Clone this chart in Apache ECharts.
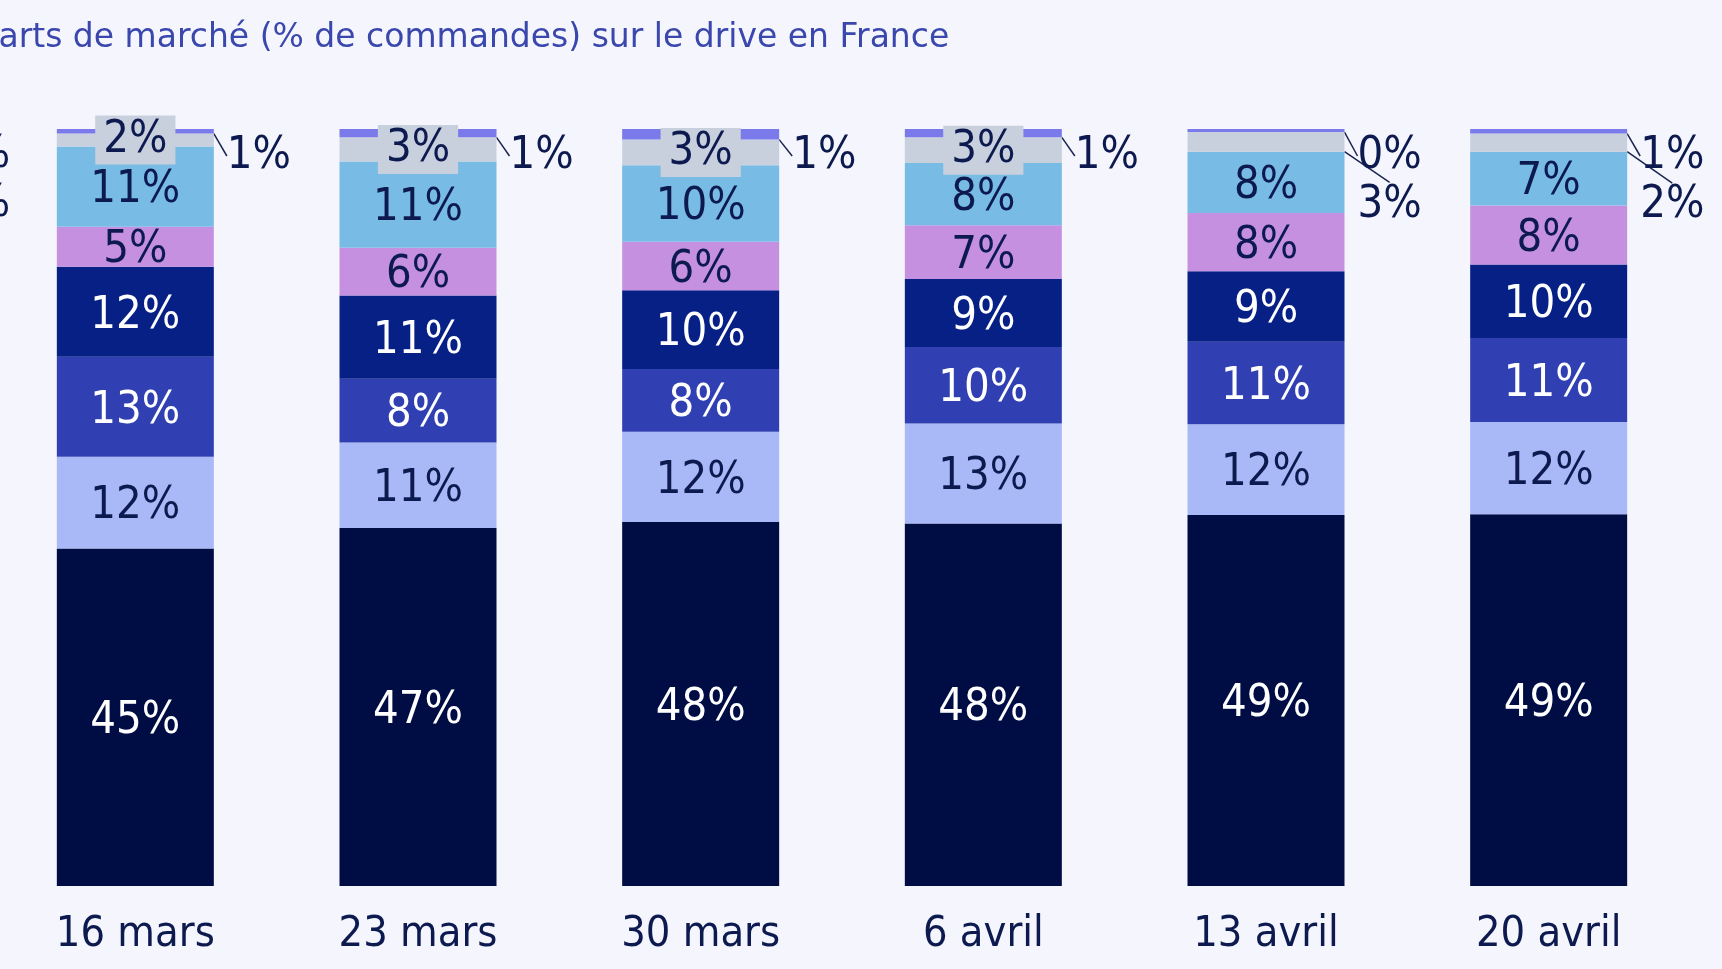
<!DOCTYPE html>
<html>
<head>
<meta charset="utf-8">
<script src="https://cdn.jsdelivr.net/npm/echarts@6/dist/echarts.min.js"></script>
<style>
html,body{margin:0;padding:0;background:#f5f6fd;overflow:hidden;}
#chart{width:1728px;height:969px;position:relative;left:-6px;}
</style>
</head>
<body>
<div id="chart"></div>
<script>
// Categories (weeks)
const categories = ['16 mars', '23 mars', '30 mars', '6 avril', '13 avril', '20 avril'];
// Market shares (% of orders), stacked bottom to top
const seg1 = [44.6, 47.3, 48.1, 47.9, 49.0, 49.1];
const seg2 = [12.1, 11.3, 11.9, 13.2, 12.0, 12.2];
const seg3 = [13.2, 8.4, 8.3, 10.1, 10.9, 11.1];
const seg4 = [11.9, 11.0, 10.4, 9.0, 9.3, 9.7];
const seg5 = [5.3, 6.3, 6.4, 7.1, 7.7, 7.8];
const seg6 = [10.6, 11.4, 10.1, 8.2, 8.1, 7.1];
const seg7 = [1.7, 3.2, 3.4, 3.4, 2.6, 2.4];
const seg8 = [0.6, 1.1, 1.4, 1.1, 0.4, 0.6];
const titleText = 'Parts de marché (% de commandes) sur le drive en France';
const edgeLabels = ['1%', '2%'];

const FONT = "'DejaVu Sans Condensed', 'DejaVu Sans', sans-serif";
const TFONT = "'DejaVu Sans', sans-serif";
const DARK = '#0d1a4f';
const colors = ['#000d45', '#a9b8f6', '#3040b2', '#062086', '#c590e0', '#78bbe5', '#c8cfdd', '#7a7aea'];
const textColors = ['#ffffff', DARK, '#ffffff', '#ffffff', DARK, DARK, DARK, DARK];
const allSeg = [seg1, seg2, seg3, seg4, seg5, seg6, seg7, seg8];

const fmt = p => Math.round(p.value) + '%';
const lineStyle = {color: '#1a2550', width: 1.5};

const series = allSeg.map((arr, si) => {
  const s = {
    type: 'bar',
    stack: 'total',
    barWidth: 157,
    itemStyle: {color: colors[si]},
    label: {
      show: true,
      position: 'inside',
      offset: [0, 4],
      formatter: fmt,
      color: textColors[si],
      fontFamily: FONT,
      fontSize: 45
    },
    data: arr.map(v => ({value: v})),
    animation: false
  };
  if (si === 6) {
    s.label.backgroundColor = colors[6];
    s.label.padding = [2, 8];
    s.label.offset = [0, 0];
    s.data = arr.map((v, i) => i >= 4 ? {
      value: v,
      label: {backgroundColor: 'transparent', padding: 0},
      labelLine: {show: true, lineStyle: lineStyle}
    } : {value: v});
    s.labelLayout = function (p) {
      if (p.dataIndex < 4) return {};
      return {
        x: p.rect.x + p.rect.width + 13,
        y: p.rect.y + p.rect.height / 2 + 63,
        align: 'left',
        verticalAlign: 'middle'
      };
    };
  }
  if (si === 7) {
    s.label.offset = [0, 0];
    s.labelLine = {show: true, lineStyle: lineStyle};
    s.labelLayout = function (p) {
      return {
        x: p.rect.x + p.rect.width + 13,
        y: p.rect.y + 27,
        align: 'left',
        verticalAlign: 'middle'
      };
    };
  }
  return s;
});

const chart = echarts.init(document.getElementById('chart'));
chart.setOption({
  backgroundColor: '#f5f6fd',
  animation: false,
  title: {
    text: titleText,
    left: -14,
    top: 22,
    padding: 0,
    textStyle: {color: '#3a47ad', fontFamily: TFONT, fontSize: 33, fontWeight: 'normal'}
  },
  graphic: edgeLabels.map((t, i) => ({
    type: 'text',
    left: -48,
    top: 133 + i * 49,
    style: {text: t, fill: DARK, font: '45px ' + FONT}
  })),
  grid: {left: 0, right: 32, top: 129, bottom: 83},
  xAxis: {
    type: 'category',
    data: categories,
    axisLine: {show: false},
    axisTick: {show: false},
    axisLabel: {color: DARK, fontFamily: FONT, fontSize: 43, margin: 27}
  },
  yAxis: {type: 'value', min: 0, max: 100, show: false, splitLine: {show: false}},
  series: series
});
</script>
</body>
</html>
